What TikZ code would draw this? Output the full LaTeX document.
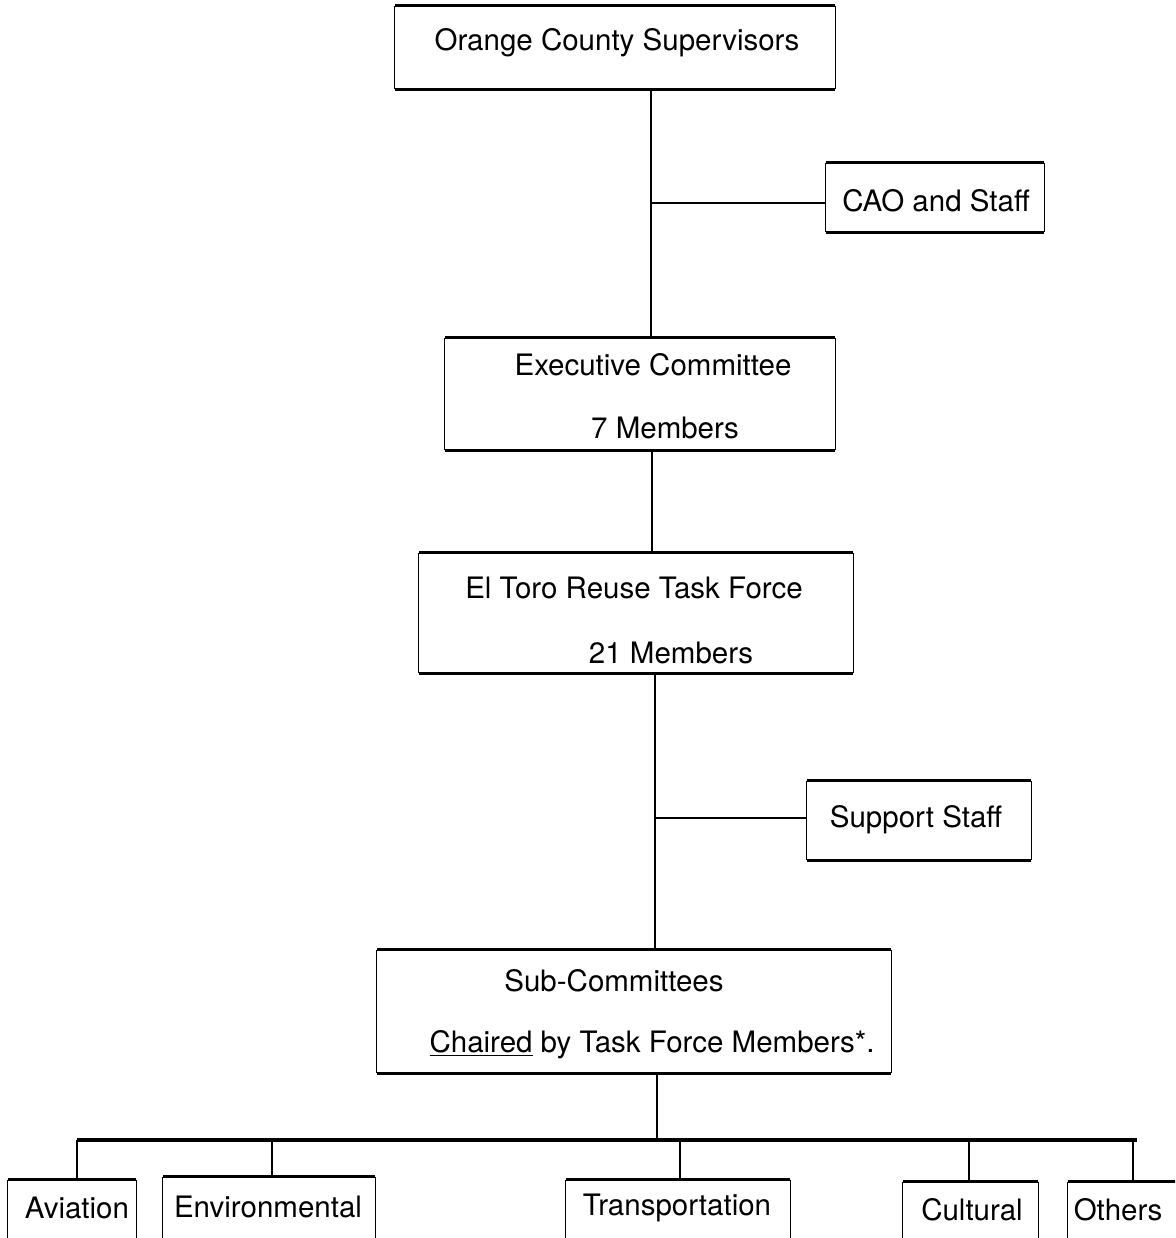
\documentclass[tikz,border=0pt]{standalone}
\usepackage{fontspec}
\setmainfont{TeX Gyre Heros}
\begin{document}
\begin{tikzpicture}[x=1pt,y=-1pt,
  box/.style={draw=none, rectangle, inner sep=0pt, anchor=center},
  txt/.style={font=\fontsize{29.5}{34}\selectfont, inner sep=0pt, anchor=center},
  side/.style={line width=1.1pt},
  edge/.style={line width=3pt},
  conn/.style={line width=1.3pt},
  bar/.style={line width=3.2pt}]
\clip (0,0) rectangle (1175,1238);
\fill[white] (0,0) rectangle (1175,1238);

% boxes
\node[box, minimum width=440pt, minimum height=83pt] (ocs) at (615,47.5) {};
\node[txt] (ocst) at (617,43) {Orange County Supervisors};
\node[box, minimum width=218pt, minimum height=69pt] (cao) at (935,197.5) {};
\node[txt] (caot) at (936,201) {CAO and Staff};
\node[box, minimum width=390pt, minimum height=112pt] (exec) at (640,394) {};
\node[txt] (exect1) at (653,365) {Executive Committee};
\node[txt] (exect2) at (665,428) {7 Members};
\node[box, minimum width=434pt, minimum height=120pt] (etr) at (636,613) {};
\node[txt] (etrt1) at (634,588) {El Toro Reuse Task Force};
\node[txt] (etrt2) at (671,653) {21 Members};
\node[box, minimum width=224pt, minimum height=79pt] (sup) at (919,820.5) {};
\node[txt] (supt) at (916,820) {Support Staff};
\node[box, minimum width=514pt, minimum height=123pt] (sub) at (634,1011.5) {};
\node[txt] (subt1) at (614,981) {Sub-Committees};
\node[txt] (subt2) at (652,1045) {\underline{Chaired} by Task Force Members*.};

\node[box, minimum width=128pt, minimum height=80pt] (avi) at (72,1220) {};
\node[txt] (avit) at (77,1208) {Aviation};
\node[box, minimum width=212pt, minimum height=86pt] (env) at (269,1220) {};
\node[txt] (envt) at (268,1207) {Environmental};
\node[box, minimum width=224pt, minimum height=80pt] (tra) at (678,1220) {};
\node[txt] (trat) at (677,1208) {Transportation};
\node[box, minimum width=135pt, minimum height=76pt] (cul) at (970.5,1220) {};
\node[txt] (cult) at (972,1210) {Cultural};
\node[box, minimum width=110pt, minimum height=76pt] (oth) at (1123,1220) {};
\node[txt] (otht) at (1118,1210) {Others};

% box outlines: thin sides, heavy top and bottom
\foreach \n in {ocs,cao,exec,etr,sup,sub,avi,env,tra,cul,oth}{
  \draw[side] (\n.north west) -- (\n.south west);
  \draw[side] (\n.north east) -- (\n.south east);
  \draw[edge] (\n.north west) -- (\n.north east);
  \draw[edge] (\n.south west) -- (\n.south east);
}

% connectors
\coordinate (j1) at (651,203);
\draw[conn] (ocs.south -| j1) -- (exec.north -| j1);
\draw[conn] (j1) -- (j1 -| cao.west);
\coordinate (j2) at (652,500);
\draw[conn] (exec.south -| j2) -- (etr.north -| j2);
\coordinate (j3) at (655,818);
\draw[conn] (etr.south -| j3) -- (sub.north -| j3);
\draw[conn] (j3) -- (j3 -| sup.west);
\coordinate (j4) at (657,1140);
\coordinate (bl) at (77,1140);
\coordinate (br) at (1137,1140);
\draw[conn] (sub.south -| j4) -- (j4);
\draw[bar] (bl) -- (br);
\draw[conn] (bl) -- (avi.north -| bl);
\draw[conn] (272,1140) -- (env.north -| 272,0);
\draw[conn] (680,1140) -- (tra.north -| 680,0);
\draw[conn] (969,1140) -- (cul.north -| 969,0);
\draw[conn] (1133,1140) -- (oth.north -| 1133,0);
\end{tikzpicture}
\end{document}
